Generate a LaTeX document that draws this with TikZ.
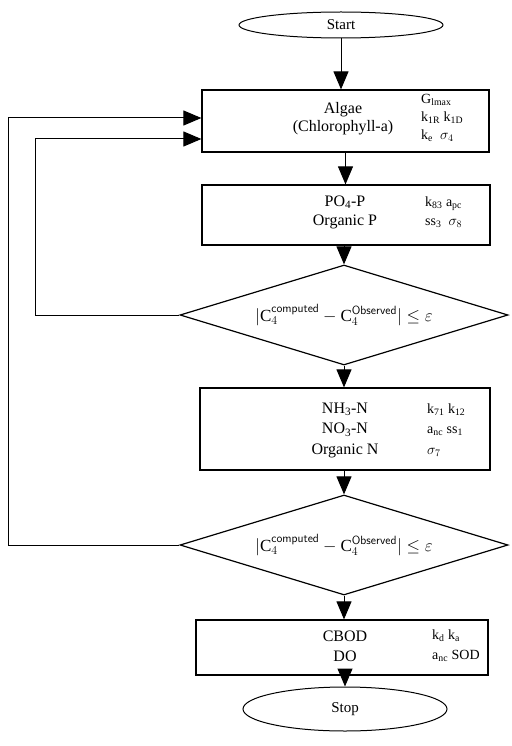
\documentclass[tikz,border=0pt]{standalone}
\usepackage{fontspec}
\setmainfont{Liberation Serif}
\usetikzlibrary{shapes.geometric,arrows.meta}

\newcommand{\ssb}[2]{#1\textsubscript{#2}}
\newcommand{\chk}{$\bigl|\mathrm{C}_4^{\mathsf{computed}}-\mathrm{C}_4^{\mathsf{Observed}}\bigr|\le\varepsilon$}

\tikzset{
  box/.style={draw, line width=1.2pt, rectangle, inner sep=0pt},
  oval/.style={draw, line width=1pt, ellipse, inner sep=0pt, font=\fontsize{15}{17}\selectfont},
  test/.style={draw, line width=1.2pt, diamond, aspect=3.28, inner sep=0pt,
    minimum width=328pt, minimum height=100pt, font=\fontsize{17}{19}\selectfont},
  arr/.style={line width=1pt, -{Triangle[width=15pt,length=18pt]}},
  txt/.style={align=center, inner sep=0pt, font=\fontsize{16}{#1}\selectfont},
  prm/.style={align=left, anchor=west, inner sep=0pt, font=\fontsize{14}{#1}\selectfont},
}

\begin{document}
\begin{tikzpicture}[x=1pt,y=-1pt]
\useasboundingbox (0,0) rectangle (511,746);

% blocks
\node[oval, minimum width=204pt, minimum height=26pt] (start) at (341,25) {Start};
\node[box, minimum width=287pt, minimum height=62pt] (algae) at (345.5,121) {};
\node[box, minimum width=288pt, minimum height=60pt] (po4) at (346,215) {};
\node[test] (dia1) at (344,315) {\chk};
\node[box, minimum width=290pt, minimum height=82pt] (nh) at (345,429) {};
\node[test] (dia2) at (344,545) {\chk};
\node[box, minimum width=292pt, minimum height=55pt] (cbod) at (342,647.5) {};
\node[oval, minimum width=204pt, minimum height=44pt] (stop) at (345,709) {Stop};

% texts in the boxes
\node[txt=18pt] (algaetxt) at (343,119) {Algae\\(Chlorophyll-a)};
\node[prm=18pt] (algaeprm) at (421,118) {\ssb{G}{lmax}\\\ssb{k}{1R} \ssb{k}{1D}\\\ssb{k}{e}\ \ $\sigma_4$};
\node[txt=19pt] (po4txt) at (345,212) {\ssb{PO}{4}-P\\Organic P};
\node[prm=19pt] (po4prm) at (425,212) {\ssb{k}{83} \ssb{a}{pc}\\\ssb{ss}{3}\ \ $\sigma_8$};
\node[txt=20.5pt] (nhtxt) at (345,430) {\ssb{NH}{3}-N\\\ssb{NO}{3}-N\\Organic N};
\node[prm=20.5pt] (nhprm) at (427,430) {\ssb{k}{71} \ssb{k}{12}\\\ssb{a}{nc} \ssb{ss}{1}\\$\sigma_7$};
\node[txt=20pt] (cbodtxt) at (345,646) {CBOD\\DO};
\node[prm=20pt] (cbodprm) at (432,646) {\ssb{k}{d} \ssb{k}{a}\\\ssb{a}{nc} SOD};

% main flow
\draw[arr] (start.south) -- (start.south |- algae.north);
\draw[arr] (algae.south) -- (algae.south |- po4.north);
\draw[arr] (po4.south -| dia1.north) -- (dia1.north);
\draw[arr] (dia1.south) -- (dia1.south |- nh.north);
\draw[arr] (nh.south -| dia2.north) -- (dia2.north);
\draw[arr] (dia2.south) -- (dia2.south |- cbod.north);
\draw[arr] (cbod.south -| stop.north) -- (stop.north);

% feedback loops
\coordinate (inner) at (35,0);
\coordinate (outer) at (8,0);
\coordinate (in1) at ([yshift=-18pt]algae.west);
\coordinate (in2) at ([yshift=3pt]algae.west);
\draw[arr] (dia1.west) -- (dia1.west -| inner) -- (inner |- in1) -- (in1);
\draw[arr] (dia2.west) -- (dia2.west -| outer) -- (outer |- in2) -- (in2);
\end{tikzpicture}
\end{document}
